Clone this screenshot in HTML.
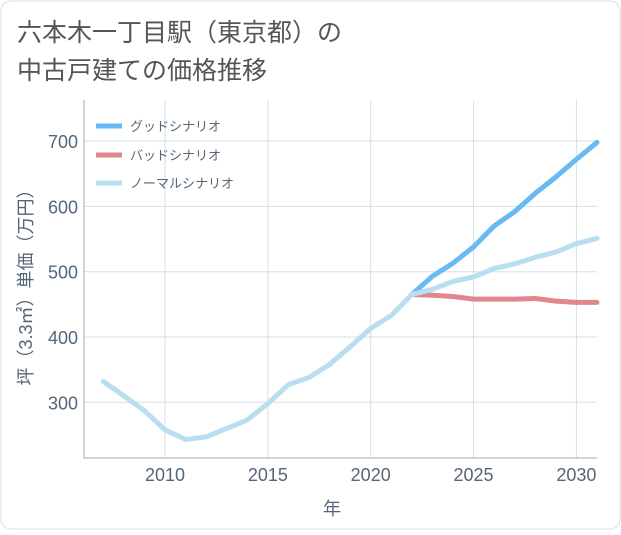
<!DOCTYPE html>
<html><head><meta charset="utf-8"><style>
body{margin:0;background:#fff;font-family:"Liberation Sans","Noto Sans CJK JP",sans-serif;}
#wrap{position:relative;width:621px;height:530px;}
svg text{font-family:"Liberation Sans","Noto Sans CJK JP",sans-serif;}
</style></head><body>
<div id="wrap">
<svg id="chart" width="621" height="530">
<rect x="1" y="1" width="619" height="528" rx="10" fill="#fff" stroke="#ddd"/>
<text x="17" y="41" font-size="25" fill="#555">六本木一丁目駅（東京都）の</text>
<text x="17" y="79" font-size="25" fill="#555">中古戸建ての価格推移</text>
<g id="grid"></g><g id="lines"></g><g id="axes"></g>
<g>
<line x1="96" y1="126" x2="122" y2="126" stroke="#68bbf2" stroke-width="5"/>
<text x="130" y="131" font-size="13" fill="#556677">グッドシナリオ</text>
<line x1="96" y1="155" x2="122" y2="155" stroke="#e0878e" stroke-width="5"/>
<text x="130" y="160" font-size="13" fill="#556677">バッドシナリオ</text>
<line x1="96" y1="183" x2="122" y2="183" stroke="#b8def0" stroke-width="5"/>
<text x="130" y="188" font-size="13" fill="#556677">ノーマルシナリオ</text>
</g>
<text x="332" y="515" font-size="18" fill="#556677" text-anchor="middle">年</text>
<text transform="translate(32,283) rotate(-90)" font-size="18" fill="#556677" text-anchor="middle">坪（3.3㎡）単価（万円）</text>
</svg></div>
<script>
const normalYears=[2007,2008,2009,2010,2011,2012,2013,2014,2015,2016,2017,2018,2019,2020,2021,2022,2023,2024,2025,2026,2027,2028,2029,2030,2031];
const normalValues=[332,310,287,258,243,247,260,273,298,327,338,358,385,413,433,465,473,485,492,505,512,522,530,543,551];
const scenarioYears=[2022,2023,2024,2025,2026,2027,2028,2029,2030,2031];
const goodValues=[465,493,513,538,570,592,620,645,672,698];
const badValues=[465,464,462,458,458,458,459,455,453,453];
const xTicks=[2010,2015,2020,2025,2030];
const yTicks=[300,400,500,600,700];
const L=84,R=597,T=100,B=458;
const x=v=>165+(v-2010)*20.57;
const y=v=>337-(v-400)*0.653;
const ns="http://www.w3.org/2000/svg";
function mk(t,a,p){const e=document.createElementNS(ns,t);for(const k in a)e.setAttribute(k,a[k]);p.appendChild(e);return e;}
const grid=document.getElementById('grid'),lines=document.getElementById('lines'),axes=document.getElementById('axes');
xTicks.forEach(t=>{const g=mk('line',{x1:x(t),x2:x(t),y1:T,y2:B,stroke:'#d3e0e8'},grid);


const tx=mk('text',{x:x(t),y:B+23,'font-size':18,fill:'#556677','text-anchor':'middle'},axes);tx.textContent=t;

});
yTicks.forEach(t=>{const g=mk('line',{x1:L,x2:R,y1:y(t),y2:y(t),stroke:'#d3e0e8'},grid);


const tx=mk('text',{x:L-6,y:y(t)+7,'font-size':18,fill:'#556677','text-anchor':'end'},axes);tx.textContent=t;

});
const ax=mk('path',{d:`M${L} ${T}V${B}H${R}`,fill:'none',stroke:'#aaa'},axes);


function series(xs,vs,c,name){const p=mk('polyline',{points:xs.map((v,i)=>x(v)+','+y(vs[i])).join(' '),fill:'none',stroke:c,'stroke-width':5,'stroke-linejoin':'round','stroke-linecap':'round'},lines);

}
series(scenarioYears,goodValues,'#68bbf2','good-scenario-line');
series(scenarioYears,badValues,'#e0878e','bad-scenario-line');
series(normalYears,normalValues,'#b8def0','normal-scenario-line');
</script></body></html>
